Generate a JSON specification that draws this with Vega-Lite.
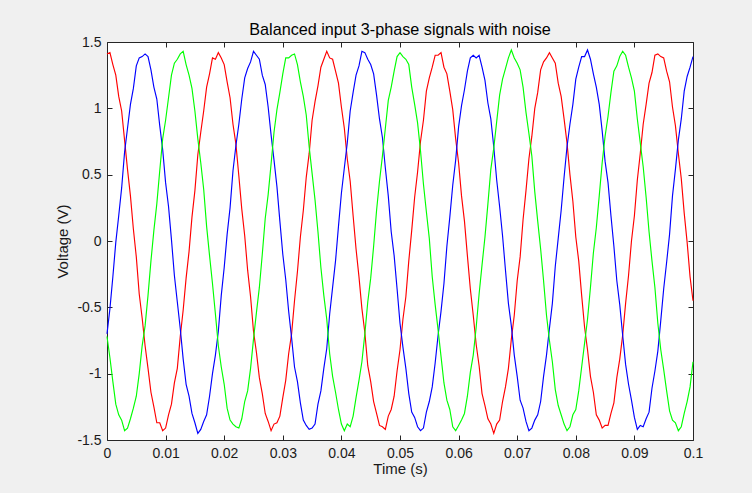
{
"$schema":"https://vega.github.io/schema/vega-lite/v6.json",
"width":586,"height":398,
"autosize":{"type":"none"},
"padding":{"left":107,"top":42,"right":59,"bottom":53},
"background":"#f0f0f0",
"title":{"text":"Balanced input 3-phase signals with noise","font":"Liberation Sans","fontSize":16.2,"fontWeight":"normal","color":"#000000","offset":-3},
"config":{
"view":{"fill":"#ffffff","stroke":"#262626","strokeWidth":1},
"axis":{"domain":false,"grid":false,"ticks":true,"tickSize":-5,"tickColor":"#262626","tickWidth":1,"labelFont":"Liberation Sans","labelFontSize":14,"labelColor":"#1a1a1a","labelPadding":11,"labelFlush":false,"labelOverlap":false,"titleFont":"Liberation Sans","titleFontSize":15,"titleFontWeight":"normal","titleColor":"#1a1a1a"}
},
"data":{"values":[
{"t":0,"p":"A","v":1.41},{"t":0.0005,"p":"A","v":1.42},{"t":0.001,"p":"A","v":1.33},{"t":0.0015,"p":"A","v":1.25},{"t":0.002,"p":"A","v":1.09},{"t":0.0025,"p":"A","v":0.98},{"t":0.003,"p":"A","v":0.76},{"t":0.0035,"p":"A","v":0.54},{"t":0.004,"p":"A","v":0.34},{"t":0.0045,"p":"A","v":0.09},
{"t":0.005,"p":"A","v":-0.12},{"t":0.0055,"p":"A","v":-0.40},{"t":0.006,"p":"A","v":-0.58},{"t":0.0065,"p":"A","v":-0.79},{"t":0.007,"p":"A","v":-0.96},{"t":0.0075,"p":"A","v":-1.14},{"t":0.008,"p":"A","v":-1.25},{"t":0.0085,"p":"A","v":-1.37},{"t":0.009,"p":"A","v":-1.37},{"t":0.0095,"p":"A","v":-1.43},
{"t":0.01,"p":"A","v":-1.41},{"t":0.0105,"p":"A","v":-1.31},{"t":0.011,"p":"A","v":-1.23},{"t":0.0115,"p":"A","v":-1.07},{"t":0.012,"p":"A","v":-0.96},{"t":0.0125,"p":"A","v":-0.72},{"t":0.013,"p":"A","v":-0.52},{"t":0.0135,"p":"A","v":-0.28},{"t":0.014,"p":"A","v":-0.08},{"t":0.0145,"p":"A","v":0.18},
{"t":0.015,"p":"A","v":0.38},{"t":0.0155,"p":"A","v":0.65},{"t":0.016,"p":"A","v":0.82},{"t":0.0165,"p":"A","v":0.98},{"t":0.017,"p":"A","v":1.16},{"t":0.0175,"p":"A","v":1.26},{"t":0.018,"p":"A","v":1.38},{"t":0.0185,"p":"A","v":1.37},{"t":0.019,"p":"A","v":1.42},{"t":0.0195,"p":"A","v":1.38},
{"t":0.02,"p":"A","v":1.33},{"t":0.0205,"p":"A","v":1.20},{"t":0.021,"p":"A","v":1.08},{"t":0.0215,"p":"A","v":0.88},{"t":0.022,"p":"A","v":0.73},{"t":0.0225,"p":"A","v":0.49},{"t":0.023,"p":"A","v":0.24},{"t":0.0235,"p":"A","v":0.04},{"t":0.024,"p":"A","v":-0.22},{"t":0.0245,"p":"A","v":-0.42},
{"t":0.025,"p":"A","v":-0.68},{"t":0.0255,"p":"A","v":-0.84},{"t":0.026,"p":"A","v":-1.03},{"t":0.0265,"p":"A","v":-1.15},{"t":0.027,"p":"A","v":-1.30},{"t":0.0275,"p":"A","v":-1.36},{"t":0.028,"p":"A","v":-1.43},{"t":0.0285,"p":"A","v":-1.38},{"t":0.029,"p":"A","v":-1.37},{"t":0.0295,"p":"A","v":-1.32},
{"t":0.03,"p":"A","v":-1.18},{"t":0.0305,"p":"A","v":-1.05},{"t":0.031,"p":"A","v":-0.85},{"t":0.0315,"p":"A","v":-0.70},{"t":0.032,"p":"A","v":-0.45},{"t":0.0325,"p":"A","v":-0.23},{"t":0.033,"p":"A","v":0.03},{"t":0.0335,"p":"A","v":0.23},{"t":0.034,"p":"A","v":0.48},{"t":0.0345,"p":"A","v":0.66},
{"t":0.035,"p":"A","v":0.91},{"t":0.0355,"p":"A","v":1.05},{"t":0.036,"p":"A","v":1.17},{"t":0.0365,"p":"A","v":1.31},{"t":0.037,"p":"A","v":1.37},{"t":0.0375,"p":"A","v":1.43},{"t":0.038,"p":"A","v":1.38},{"t":0.0385,"p":"A","v":1.37},{"t":0.039,"p":"A","v":1.28},{"t":0.0395,"p":"A","v":1.19},
{"t":0.04,"p":"A","v":1.01},{"t":0.0405,"p":"A","v":0.85},{"t":0.041,"p":"A","v":0.62},{"t":0.0415,"p":"A","v":0.45},{"t":0.042,"p":"A","v":0.19},{"t":0.0425,"p":"A","v":-0.06},{"t":0.043,"p":"A","v":-0.27},{"t":0.0435,"p":"A","v":-0.51},{"t":0.044,"p":"A","v":-0.69},{"t":0.0445,"p":"A","v":-0.94},
{"t":0.045,"p":"A","v":-1.06},{"t":0.0455,"p":"A","v":-1.21},{"t":0.046,"p":"A","v":-1.30},{"t":0.0465,"p":"A","v":-1.39},{"t":0.047,"p":"A","v":-1.40},{"t":0.0475,"p":"A","v":-1.42},{"t":0.048,"p":"A","v":-1.32},{"t":0.0485,"p":"A","v":-1.27},{"t":0.049,"p":"A","v":-1.17},{"t":0.0495,"p":"A","v":-0.98},
{"t":0.05,"p":"A","v":-0.82},{"t":0.0505,"p":"A","v":-0.59},{"t":0.051,"p":"A","v":-0.42},{"t":0.0515,"p":"A","v":-0.15},{"t":0.052,"p":"A","v":0.08},{"t":0.0525,"p":"A","v":0.33},{"t":0.053,"p":"A","v":0.52},{"t":0.0535,"p":"A","v":0.75},{"t":0.054,"p":"A","v":0.91},{"t":0.0545,"p":"A","v":1.13},
{"t":0.055,"p":"A","v":1.23},{"t":0.0555,"p":"A","v":1.31},{"t":0.056,"p":"A","v":1.40},{"t":0.0565,"p":"A","v":1.40},{"t":0.057,"p":"A","v":1.42},{"t":0.0575,"p":"A","v":1.31},{"t":0.058,"p":"A","v":1.26},{"t":0.0585,"p":"A","v":1.13},{"t":0.059,"p":"A","v":0.99},{"t":0.0595,"p":"A","v":0.77},
{"t":0.06,"p":"A","v":0.59},{"t":0.0605,"p":"A","v":0.34},{"t":0.061,"p":"A","v":0.15},{"t":0.0615,"p":"A","v":-0.11},{"t":0.062,"p":"A","v":-0.36},{"t":0.0625,"p":"A","v":-0.56},{"t":0.063,"p":"A","v":-0.78},{"t":0.0635,"p":"A","v":-0.94},{"t":0.064,"p":"A","v":-1.15},{"t":0.0645,"p":"A","v":-1.24},
{"t":0.065,"p":"A","v":-1.34},{"t":0.0655,"p":"A","v":-1.38},{"t":0.066,"p":"A","v":-1.45},{"t":0.0665,"p":"A","v":-1.38},{"t":0.067,"p":"A","v":-1.35},{"t":0.0675,"p":"A","v":-1.21},{"t":0.068,"p":"A","v":-1.10},{"t":0.0685,"p":"A","v":-0.96},{"t":0.069,"p":"A","v":-0.74},{"t":0.0695,"p":"A","v":-0.56},
{"t":0.07,"p":"A","v":-0.30},{"t":0.0705,"p":"A","v":-0.12},{"t":0.071,"p":"A","v":0.16},{"t":0.0715,"p":"A","v":0.38},{"t":0.072,"p":"A","v":0.62},{"t":0.0725,"p":"A","v":0.79},{"t":0.073,"p":"A","v":1.00},{"t":0.0735,"p":"A","v":1.12},{"t":0.074,"p":"A","v":1.29},{"t":0.0745,"p":"A","v":1.35},
{"t":0.075,"p":"A","v":1.38},{"t":0.0755,"p":"A","v":1.42},{"t":0.076,"p":"A","v":1.38},{"t":0.0765,"p":"A","v":1.34},{"t":0.077,"p":"A","v":1.19},{"t":0.0775,"p":"A","v":1.09},{"t":0.078,"p":"A","v":0.92},{"t":0.0785,"p":"A","v":0.74},{"t":0.079,"p":"A","v":0.50},{"t":0.0795,"p":"A","v":0.30},
{"t":0.08,"p":"A","v":0.03},{"t":0.0805,"p":"A","v":-0.15},{"t":0.081,"p":"A","v":-0.41},{"t":0.0815,"p":"A","v":-0.65},{"t":0.082,"p":"A","v":-0.82},{"t":0.0825,"p":"A","v":-1.02},{"t":0.083,"p":"A","v":-1.14},{"t":0.0835,"p":"A","v":-1.31},{"t":0.084,"p":"A","v":-1.35},{"t":0.0845,"p":"A","v":-1.41},
{"t":0.085,"p":"A","v":-1.39},{"t":0.0855,"p":"A","v":-1.39},{"t":0.086,"p":"A","v":-1.30},{"t":0.0865,"p":"A","v":-1.22},{"t":0.087,"p":"A","v":-1.03},{"t":0.0875,"p":"A","v":-0.89},{"t":0.088,"p":"A","v":-0.71},{"t":0.0885,"p":"A","v":-0.47},{"t":0.089,"p":"A","v":-0.26},{"t":0.0895,"p":"A","v":0.00},
{"t":0.09,"p":"A","v":0.19},{"t":0.0905,"p":"A","v":0.46},{"t":0.091,"p":"A","v":0.66},{"t":0.0915,"p":"A","v":0.88},{"t":0.092,"p":"A","v":1.03},{"t":0.0925,"p":"A","v":1.19},{"t":0.093,"p":"A","v":1.27},{"t":0.0935,"p":"A","v":1.40},{"t":0.094,"p":"A","v":1.41},{"t":0.0945,"p":"A","v":1.39},
{"t":0.095,"p":"A","v":1.38},{"t":0.0955,"p":"A","v":1.28},{"t":0.096,"p":"A","v":1.20},{"t":0.0965,"p":"A","v":1.01},{"t":0.097,"p":"A","v":0.87},{"t":0.0975,"p":"A","v":0.66},{"t":0.098,"p":"A","v":0.47},{"t":0.0985,"p":"A","v":0.21},{"t":0.099,"p":"A","v":-0.01},{"t":0.0995,"p":"A","v":-0.27},
{"t":0.1,"p":"A","v":-0.45},
{"t":0,"p":"B","v":-0.70},{"t":0.0005,"p":"B","v":-0.51},{"t":0.001,"p":"B","v":-0.27},{"t":0.0015,"p":"B","v":-0.01},{"t":0.002,"p":"B","v":0.19},{"t":0.0025,"p":"B","v":0.40},{"t":0.003,"p":"B","v":0.67},{"t":0.0035,"p":"B","v":0.85},{"t":0.004,"p":"B","v":1.03},{"t":0.0045,"p":"B","v":1.15},
{"t":0.005,"p":"B","v":1.32},{"t":0.0055,"p":"B","v":1.38},{"t":0.006,"p":"B","v":1.39},{"t":0.0065,"p":"B","v":1.41},{"t":0.007,"p":"B","v":1.39},{"t":0.0075,"p":"B","v":1.29},{"t":0.008,"p":"B","v":1.16},{"t":0.0085,"p":"B","v":1.07},{"t":0.009,"p":"B","v":0.87},{"t":0.0095,"p":"B","v":0.69},
{"t":0.01,"p":"B","v":0.44},{"t":0.0105,"p":"B","v":0.26},{"t":0.011,"p":"B","v":0.01},{"t":0.0115,"p":"B","v":-0.26},{"t":0.012,"p":"B","v":-0.46},{"t":0.0125,"p":"B","v":-0.66},{"t":0.013,"p":"B","v":-0.89},{"t":0.0135,"p":"B","v":-1.08},{"t":0.014,"p":"B","v":-1.17},{"t":0.0145,"p":"B","v":-1.30},
{"t":0.015,"p":"B","v":-1.37},{"t":0.0155,"p":"B","v":-1.45},{"t":0.016,"p":"B","v":-1.42},{"t":0.0165,"p":"B","v":-1.36},{"t":0.017,"p":"B","v":-1.31},{"t":0.0175,"p":"B","v":-1.17},{"t":0.018,"p":"B","v":-1.00},{"t":0.0185,"p":"B","v":-0.86},{"t":0.019,"p":"B","v":-0.68},{"t":0.0195,"p":"B","v":-0.41},
{"t":0.02,"p":"B","v":-0.20},{"t":0.0205,"p":"B","v":0.05},{"t":0.021,"p":"B","v":0.25},{"t":0.0215,"p":"B","v":0.53},{"t":0.022,"p":"B","v":0.72},{"t":0.0225,"p":"B","v":0.88},{"t":0.023,"p":"B","v":1.07},{"t":0.0235,"p":"B","v":1.23},{"t":0.024,"p":"B","v":1.30},{"t":0.0245,"p":"B","v":1.35},
{"t":0.025,"p":"B","v":1.43},{"t":0.0255,"p":"B","v":1.40},{"t":0.026,"p":"B","v":1.37},{"t":0.0265,"p":"B","v":1.25},{"t":0.027,"p":"B","v":1.18},{"t":0.0275,"p":"B","v":1.01},{"t":0.028,"p":"B","v":0.80},{"t":0.0285,"p":"B","v":0.61},{"t":0.029,"p":"B","v":0.41},{"t":0.0295,"p":"B","v":0.15},
{"t":0.03,"p":"B","v":-0.10},{"t":0.0305,"p":"B","v":-0.29},{"t":0.031,"p":"B","v":-0.53},{"t":0.0315,"p":"B","v":-0.73},{"t":0.032,"p":"B","v":-0.95},{"t":0.0325,"p":"B","v":-1.06},{"t":0.033,"p":"B","v":-1.22},{"t":0.0335,"p":"B","v":-1.35},{"t":0.034,"p":"B","v":-1.39},{"t":0.0345,"p":"B","v":-1.42},
{"t":0.035,"p":"B","v":-1.41},{"t":0.0355,"p":"B","v":-1.38},{"t":0.036,"p":"B","v":-1.23},{"t":0.0365,"p":"B","v":-1.13},{"t":0.037,"p":"B","v":-0.96},{"t":0.0375,"p":"B","v":-0.81},{"t":0.038,"p":"B","v":-0.55},{"t":0.0385,"p":"B","v":-0.35},{"t":0.039,"p":"B","v":-0.15},{"t":0.0395,"p":"B","v":0.11},
{"t":0.04,"p":"B","v":0.36},{"t":0.0405,"p":"B","v":0.55},{"t":0.041,"p":"B","v":0.74},{"t":0.0415,"p":"B","v":0.98},{"t":0.042,"p":"B","v":1.12},{"t":0.0425,"p":"B","v":1.25},{"t":0.043,"p":"B","v":1.32},{"t":0.0435,"p":"B","v":1.43},{"t":0.044,"p":"B","v":1.42},{"t":0.0445,"p":"B","v":1.37},
{"t":0.045,"p":"B","v":1.33},{"t":0.0455,"p":"B","v":1.26},{"t":0.046,"p":"B","v":1.10},{"t":0.0465,"p":"B","v":0.92},{"t":0.047,"p":"B","v":0.78},{"t":0.0475,"p":"B","v":0.55},{"t":0.048,"p":"B","v":0.34},{"t":0.0485,"p":"B","v":0.07},{"t":0.049,"p":"B","v":-0.11},{"t":0.0495,"p":"B","v":-0.36},
{"t":0.05,"p":"B","v":-0.62},{"t":0.0505,"p":"B","v":-0.80},{"t":0.051,"p":"B","v":-0.96},{"t":0.0515,"p":"B","v":-1.15},{"t":0.052,"p":"B","v":-1.29},{"t":0.0525,"p":"B","v":-1.33},{"t":0.053,"p":"B","v":-1.40},{"t":0.0535,"p":"B","v":-1.43},{"t":0.054,"p":"B","v":-1.41},{"t":0.0545,"p":"B","v":-1.29},
{"t":0.055,"p":"B","v":-1.21},{"t":0.0555,"p":"B","v":-1.10},{"t":0.056,"p":"B","v":-0.92},{"t":0.0565,"p":"B","v":-0.71},{"t":0.057,"p":"B","v":-0.53},{"t":0.0575,"p":"B","v":-0.32},{"t":0.058,"p":"B","v":-0.04},{"t":0.0585,"p":"B","v":0.18},{"t":0.059,"p":"B","v":0.42},{"t":0.0595,"p":"B","v":0.61},
{"t":0.06,"p":"B","v":0.86},{"t":0.0605,"p":"B","v":1.02},{"t":0.061,"p":"B","v":1.14},{"t":0.0615,"p":"B","v":1.28},{"t":0.062,"p":"B","v":1.38},{"t":0.0625,"p":"B","v":1.40},{"t":0.063,"p":"B","v":1.38},{"t":0.0635,"p":"B","v":1.40},{"t":0.064,"p":"B","v":1.31},{"t":0.0645,"p":"B","v":1.21},
{"t":0.065,"p":"B","v":1.04},{"t":0.0655,"p":"B","v":0.92},{"t":0.066,"p":"B","v":0.71},{"t":0.0665,"p":"B","v":0.46},{"t":0.067,"p":"B","v":0.26},{"t":0.0675,"p":"B","v":0.04},{"t":0.068,"p":"B","v":-0.22},{"t":0.0685,"p":"B","v":-0.47},{"t":0.069,"p":"B","v":-0.64},{"t":0.0695,"p":"B","v":-0.86},
{"t":0.07,"p":"B","v":-1.02},{"t":0.0705,"p":"B","v":-1.20},{"t":0.071,"p":"B","v":-1.26},{"t":0.0715,"p":"B","v":-1.36},{"t":0.072,"p":"B","v":-1.43},{"t":0.0725,"p":"B","v":-1.41},{"t":0.073,"p":"B","v":-1.35},{"t":0.0735,"p":"B","v":-1.31},{"t":0.074,"p":"B","v":-1.21},{"t":0.0745,"p":"B","v":-1.02},
{"t":0.075,"p":"B","v":-0.86},{"t":0.0755,"p":"B","v":-0.66},{"t":0.076,"p":"B","v":-0.47},{"t":0.0765,"p":"B","v":-0.19},{"t":0.077,"p":"B","v":0.02},{"t":0.0775,"p":"B","v":0.23},{"t":0.078,"p":"B","v":0.48},{"t":0.0785,"p":"B","v":0.71},{"t":0.079,"p":"B","v":0.88},{"t":0.0795,"p":"B","v":1.03},
{"t":0.08,"p":"B","v":1.22},{"t":0.0805,"p":"B","v":1.31},{"t":0.081,"p":"B","v":1.39},{"t":0.0815,"p":"B","v":1.39},{"t":0.082,"p":"B","v":1.44},{"t":0.0825,"p":"B","v":1.37},{"t":0.083,"p":"B","v":1.26},{"t":0.0835,"p":"B","v":1.16},{"t":0.084,"p":"B","v":1.03},{"t":0.0845,"p":"B","v":0.83},
{"t":0.085,"p":"B","v":0.60},{"t":0.0855,"p":"B","v":0.44},{"t":0.086,"p":"B","v":0.19},{"t":0.0865,"p":"B","v":-0.04},{"t":0.087,"p":"B","v":-0.30},{"t":0.0875,"p":"B","v":-0.48},{"t":0.088,"p":"B","v":-0.71},{"t":0.0885,"p":"B","v":-0.93},{"t":0.089,"p":"B","v":-1.08},{"t":0.0895,"p":"B","v":-1.20},
{"t":0.09,"p":"B","v":-1.33},{"t":0.0905,"p":"B","v":-1.42},{"t":0.091,"p":"B","v":-1.39},{"t":0.0915,"p":"B","v":-1.40},{"t":0.092,"p":"B","v":-1.34},{"t":0.0925,"p":"B","v":-1.29},{"t":0.093,"p":"B","v":-1.11},{"t":0.0935,"p":"B","v":-0.98},{"t":0.094,"p":"B","v":-0.83},{"t":0.0945,"p":"B","v":-0.60},
{"t":0.095,"p":"B","v":-0.36},{"t":0.0955,"p":"B","v":-0.16},{"t":0.096,"p":"B","v":0.05},{"t":0.0965,"p":"B","v":0.34},{"t":0.097,"p":"B","v":0.54},{"t":0.0975,"p":"B","v":0.76},{"t":0.098,"p":"B","v":0.92},{"t":0.0985,"p":"B","v":1.13},{"t":0.099,"p":"B","v":1.24},{"t":0.0995,"p":"B","v":1.31},
{"t":0.1,"p":"B","v":1.39},
{"t":0,"p":"C","v":-0.72},{"t":0.0005,"p":"C","v":-0.88},{"t":0.001,"p":"C","v":-1.06},{"t":0.0015,"p":"C","v":-1.23},{"t":0.002,"p":"C","v":-1.31},{"t":0.0025,"p":"C","v":-1.35},{"t":0.003,"p":"C","v":-1.43},{"t":0.0035,"p":"C","v":-1.41},{"t":0.004,"p":"C","v":-1.34},{"t":0.0045,"p":"C","v":-1.26},
{"t":0.005,"p":"C","v":-1.17},{"t":0.0055,"p":"C","v":-1.00},{"t":0.006,"p":"C","v":-0.79},{"t":0.0065,"p":"C","v":-0.64},{"t":0.007,"p":"C","v":-0.41},{"t":0.0075,"p":"C","v":-0.15},{"t":0.008,"p":"C","v":0.08},{"t":0.0085,"p":"C","v":0.28},{"t":0.009,"p":"C","v":0.53},{"t":0.0095,"p":"C","v":0.77},
{"t":0.01,"p":"C","v":0.91},{"t":0.0105,"p":"C","v":1.08},{"t":0.011,"p":"C","v":1.25},{"t":0.0115,"p":"C","v":1.34},{"t":0.012,"p":"C","v":1.37},{"t":0.0125,"p":"C","v":1.41},{"t":0.013,"p":"C","v":1.43},{"t":0.0135,"p":"C","v":1.33},{"t":0.014,"p":"C","v":1.25},{"t":0.0145,"p":"C","v":1.15},
{"t":0.015,"p":"C","v":0.98},{"t":0.0155,"p":"C","v":0.77},{"t":0.016,"p":"C","v":0.59},{"t":0.0165,"p":"C","v":0.39},{"t":0.017,"p":"C","v":0.11},{"t":0.0175,"p":"C","v":-0.11},{"t":0.018,"p":"C","v":-0.32},{"t":0.0185,"p":"C","v":-0.55},{"t":0.019,"p":"C","v":-0.79},{"t":0.0195,"p":"C","v":-0.95},
{"t":0.02,"p":"C","v":-1.08},{"t":0.0205,"p":"C","v":-1.26},{"t":0.021,"p":"C","v":-1.35},{"t":0.0215,"p":"C","v":-1.38},{"t":0.022,"p":"C","v":-1.40},{"t":0.0225,"p":"C","v":-1.41},{"t":0.023,"p":"C","v":-1.34},{"t":0.0235,"p":"C","v":-1.21},{"t":0.024,"p":"C","v":-1.13},{"t":0.0245,"p":"C","v":-0.96},
{"t":0.025,"p":"C","v":-0.74},{"t":0.0255,"p":"C","v":-0.54},{"t":0.026,"p":"C","v":-0.35},{"t":0.0265,"p":"C","v":-0.10},{"t":0.027,"p":"C","v":0.17},{"t":0.0275,"p":"C","v":0.35},{"t":0.028,"p":"C","v":0.58},{"t":0.0285,"p":"C","v":0.82},{"t":0.029,"p":"C","v":0.99},{"t":0.0295,"p":"C","v":1.12},
{"t":0.03,"p":"C","v":1.26},{"t":0.0305,"p":"C","v":1.38},{"t":0.031,"p":"C","v":1.38},{"t":0.0315,"p":"C","v":1.40},{"t":0.032,"p":"C","v":1.41},{"t":0.0325,"p":"C","v":1.33},{"t":0.033,"p":"C","v":1.20},{"t":0.0335,"p":"C","v":1.09},{"t":0.034,"p":"C","v":0.95},{"t":0.0345,"p":"C","v":0.71},
{"t":0.035,"p":"C","v":0.51},{"t":0.0355,"p":"C","v":0.31},{"t":0.036,"p":"C","v":0.07},{"t":0.0365,"p":"C","v":-0.20},{"t":0.037,"p":"C","v":-0.41},{"t":0.0375,"p":"C","v":-0.59},{"t":0.038,"p":"C","v":-0.85},{"t":0.0385,"p":"C","v":-1.02},{"t":0.039,"p":"C","v":-1.14},{"t":0.0395,"p":"C","v":-1.27},
{"t":0.04,"p":"C","v":-1.38},{"t":0.0405,"p":"C","v":-1.43},{"t":0.041,"p":"C","v":-1.38},{"t":0.0415,"p":"C","v":-1.40},{"t":0.042,"p":"C","v":-1.32},{"t":0.0425,"p":"C","v":-1.18},{"t":0.043,"p":"C","v":-1.05},{"t":0.0435,"p":"C","v":-0.91},{"t":0.044,"p":"C","v":-0.70},{"t":0.0445,"p":"C","v":-0.46},
{"t":0.045,"p":"C","v":-0.28},{"t":0.0455,"p":"C","v":-0.04},{"t":0.046,"p":"C","v":0.23},{"t":0.0465,"p":"C","v":0.45},{"t":0.047,"p":"C","v":0.64},{"t":0.0475,"p":"C","v":0.85},{"t":0.048,"p":"C","v":1.06},{"t":0.0485,"p":"C","v":1.16},{"t":0.049,"p":"C","v":1.28},{"t":0.0495,"p":"C","v":1.39},
{"t":0.05,"p":"C","v":1.42},{"t":0.0505,"p":"C","v":1.39},{"t":0.051,"p":"C","v":1.37},{"t":0.0515,"p":"C","v":1.33},{"t":0.052,"p":"C","v":1.16},{"t":0.0525,"p":"C","v":1.03},{"t":0.053,"p":"C","v":0.89},{"t":0.0535,"p":"C","v":0.68},{"t":0.054,"p":"C","v":0.43},{"t":0.0545,"p":"C","v":0.22},
{"t":0.055,"p":"C","v":0.02},{"t":0.0555,"p":"C","v":-0.27},{"t":0.056,"p":"C","v":-0.48},{"t":0.0565,"p":"C","v":-0.67},{"t":0.057,"p":"C","v":-0.87},{"t":0.0575,"p":"C","v":-1.07},{"t":0.058,"p":"C","v":-1.20},{"t":0.0585,"p":"C","v":-1.27},{"t":0.059,"p":"C","v":-1.40},{"t":0.0595,"p":"C","v":-1.43},
{"t":0.06,"p":"C","v":-1.39},{"t":0.0605,"p":"C","v":-1.35},{"t":0.061,"p":"C","v":-1.30},{"t":0.0615,"p":"C","v":-1.17},{"t":0.062,"p":"C","v":-0.99},{"t":0.0625,"p":"C","v":-0.86},{"t":0.063,"p":"C","v":-0.65},{"t":0.0635,"p":"C","v":-0.40},{"t":0.064,"p":"C","v":-0.18},{"t":0.0645,"p":"C","v":0.03},
{"t":0.065,"p":"C","v":0.28},{"t":0.0655,"p":"C","v":0.54},{"t":0.066,"p":"C","v":0.70},{"t":0.0665,"p":"C","v":0.90},{"t":0.067,"p":"C","v":1.10},{"t":0.0675,"p":"C","v":1.22},{"t":0.068,"p":"C","v":1.30},{"t":0.0685,"p":"C","v":1.38},{"t":0.069,"p":"C","v":1.44},{"t":0.0695,"p":"C","v":1.38},
{"t":0.07,"p":"C","v":1.34},{"t":0.0705,"p":"C","v":1.29},{"t":0.071,"p":"C","v":1.16},{"t":0.0715,"p":"C","v":0.97},{"t":0.072,"p":"C","v":0.81},{"t":0.0725,"p":"C","v":0.64},{"t":0.073,"p":"C","v":0.37},{"t":0.0735,"p":"C","v":0.15},{"t":0.074,"p":"C","v":-0.06},{"t":0.0745,"p":"C","v":-0.30},
{"t":0.075,"p":"C","v":-0.56},{"t":0.0755,"p":"C","v":-0.75},{"t":0.076,"p":"C","v":-0.91},{"t":0.0765,"p":"C","v":-1.12},{"t":0.077,"p":"C","v":-1.24},{"t":0.0775,"p":"C","v":-1.31},{"t":0.078,"p":"C","v":-1.38},{"t":0.0785,"p":"C","v":-1.43},{"t":0.079,"p":"C","v":-1.40},{"t":0.0795,"p":"C","v":-1.31},
{"t":0.08,"p":"C","v":-1.27},{"t":0.0805,"p":"C","v":-1.13},{"t":0.081,"p":"C","v":-0.95},{"t":0.0815,"p":"C","v":-0.77},{"t":0.082,"p":"C","v":-0.59},{"t":0.0825,"p":"C","v":-0.35},{"t":0.083,"p":"C","v":-0.09},{"t":0.0835,"p":"C","v":0.10},{"t":0.084,"p":"C","v":0.34},{"t":0.0845,"p":"C","v":0.59},
{"t":0.085,"p":"C","v":0.79},{"t":0.0855,"p":"C","v":0.94},{"t":0.086,"p":"C","v":1.12},{"t":0.0865,"p":"C","v":1.28},{"t":0.087,"p":"C","v":1.32},{"t":0.0875,"p":"C","v":1.39},{"t":0.088,"p":"C","v":1.43},{"t":0.0885,"p":"C","v":1.40},{"t":0.089,"p":"C","v":1.31},{"t":0.0895,"p":"C","v":1.23},
{"t":0.09,"p":"C","v":1.13},{"t":0.0905,"p":"C","v":0.92},{"t":0.091,"p":"C","v":0.74},{"t":0.0915,"p":"C","v":0.56},{"t":0.092,"p":"C","v":0.33},{"t":0.0925,"p":"C","v":0.07},{"t":0.093,"p":"C","v":-0.15},{"t":0.0935,"p":"C","v":-0.35},{"t":0.094,"p":"C","v":-0.62},{"t":0.0945,"p":"C","v":-0.82},
{"t":0.095,"p":"C","v":-0.97},{"t":0.0955,"p":"C","v":-1.13},{"t":0.096,"p":"C","v":-1.28},{"t":0.0965,"p":"C","v":-1.35},{"t":0.097,"p":"C","v":-1.37},{"t":0.0975,"p":"C","v":-1.43},{"t":0.098,"p":"C","v":-1.40},{"t":0.0985,"p":"C","v":-1.30},{"t":0.099,"p":"C","v":-1.21},{"t":0.0995,"p":"C","v":-1.10},
{"t":0.1,"p":"C","v":-0.91}
]},
"layer":[
{"mark":{"type":"line","strokeWidth":1.15},
"encoding":{
"x":{"field":"t","type":"quantitative","scale":{"domain":[0,0.1],"nice":false,"zero":false},"axis":{"orient":"bottom","title":"Time (s)","titlePadding":1,"values":[0,0.01,0.02,0.03,0.04,0.05,0.06,0.07,0.08,0.09,0.1],"labelExpr":"datum.value + ''"}},
"y":{"field":"v","type":"quantitative","scale":{"domain":[-1.5,1.5],"nice":false,"zero":false},"axis":{"orient":"left","title":"Voltage (V)","titlePadding":6,"values":[-1.5,-1,-0.5,0,0.5,1,1.5],"labelExpr":"datum.value + ''"}},
"color":{"field":"p","type":"nominal","scale":{"domain":["A","B","C"],"range":["#ff0000","#0000ff","#00ff00"]},"legend":null}
}},
{"mark":{"type":"line","opacity":0},
"encoding":{
"x":{"field":"t","type":"quantitative","scale":{"domain":[0,0.1],"nice":false,"zero":false},"axis":{"orient":"top","title":null,"labels":false,"values":[0,0.01,0.02,0.03,0.04,0.05,0.06,0.07,0.08,0.09,0.1]}},
"y":{"field":"v","type":"quantitative","scale":{"domain":[-1.5,1.5],"nice":false,"zero":false},"axis":{"orient":"right","title":null,"labels":false,"values":[-1.5,-1,-0.5,0,0.5,1,1.5]}},
"detail":{"field":"p","type":"nominal"}
}}
],
"resolve":{"axis":{"x":"independent","y":"independent"}}
}
